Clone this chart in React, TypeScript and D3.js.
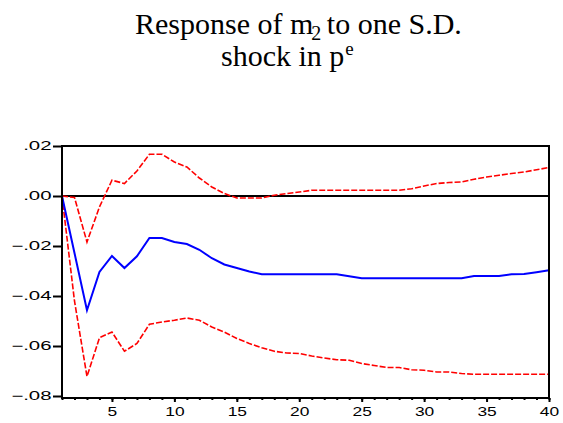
import { useEffect, useRef } from "react";
import * as d3 from "d3";

// periods 1..40
const periods = d3.range(1, 41);

const response = [
    0, -0.0228, -0.0457, -0.0304, -0.024, -0.0288, -0.0241, -0.0168, -0.0168, -0.0184,
    -0.0192, -0.0215, -0.0249, -0.0274, -0.0288, -0.0302, -0.0313, -0.0313, -0.0313, -0.0313,
    -0.0313, -0.0313, -0.0313, -0.0321, -0.0329, -0.0329, -0.0329, -0.0329, -0.0329, -0.0329,
    -0.0329, -0.0329, -0.0329, -0.032, -0.032, -0.032, -0.0313, -0.0312, -0.0305, -0.0297,
];

const upperBand = [
    0, -0.0006, -0.0184, -0.0044, 0.0063, 0.005, 0.01, 0.0167, 0.0167, 0.0136,
    0.0116, 0.0072, 0.0036, 0.001, -0.0008, -0.0008, -0.0008, 0.0003, 0.001, 0.0016,
    0.0023, 0.0023, 0.0023, 0.0023, 0.0023, 0.0023, 0.0023, 0.0023, 0.0029, 0.004,
    0.005, 0.0054, 0.0056, 0.0067, 0.0076, 0.0083, 0.009, 0.0096, 0.0105, 0.0114,
];

const lowerBand = [
    0, -0.042, -0.0722, -0.0567, -0.0544, -0.0621, -0.059, -0.0513, -0.0504, -0.0497,
    -0.0488, -0.0497, -0.0524, -0.0544, -0.057, -0.059, -0.0607, -0.0621, -0.0628, -0.063,
    -0.064, -0.0648, -0.0655, -0.0657, -0.067, -0.0678, -0.0686, -0.0686, -0.0695, -0.0697,
    -0.0704, -0.0704, -0.071, -0.0713, -0.0713, -0.0713, -0.0713, -0.0713, -0.0713, -0.0713,
];

const yTicks = [0.02, 0, -0.02, -0.04, -0.06, -0.08];
const xTicks = [5, 10, 15, 20, 25, 30, 35, 40];

const WIDTH = 563;
const HEIGHT = 423;
// tick labels are drawn wide, like the original
const Y_STRETCH = 1.7;
const X_STRETCH = 1.45;

export default function App() {
    const svgRef = useRef<SVGSVGElement | null>(null);

    useEffect(() => {
        const svg = d3.select(svgRef.current!);
        svg.selectAll("*").remove();

        const margin = { left: 62, right: 14, top: 146, bottom: 25 };
        const x = d3.scaleLinear().domain([1, 40]).range([margin.left, WIDTH - margin.right]);
        const y = d3.scaleLinear().domain([-0.0808, 0.02]).range([HEIGHT - margin.bottom, margin.top]);

        // title
        const title = svg.append("g").attr("font-family", "'Liberation Serif', 'Times New Roman', serif").attr("fill", "#000");
        const t1 = title.append("text").attr("x", 135).attr("y", 34).attr("font-size", 30);
        t1.append("tspan").text("Response of m");
        t1.append("tspan").attr("dy", 6).attr("dx", -2).attr("font-size", 20).text("2");
        t1.append("tspan").attr("dy", -6).attr("dx", -2).text(" to one S.D.");
        const t2 = title.append("text").attr("x", 221).attr("y", 66).attr("font-size", 30);
        t2.append("tspan").text("shock in p");
        t2.append("tspan").attr("dy", -11).attr("dx", 1).attr("font-size", 19).text("e");

        const fmt = (d: number) => d3.format(".2f")(d).replace("0.", ".");

        // y axis
        const yAxis = d3.axisLeft(y).tickValues(yTicks).tickSize(9).tickPadding(1).tickFormat((d) => fmt(Number(d)));
        const gy = svg.append("g").attr("transform", `translate(${margin.left},0)`).call(yAxis as any);
        gy.select(".domain").remove();
        gy.selectAll("line").attr("stroke", "#000").attr("stroke-width", 2);
        gy.selectAll("text")
            .attr("font-family", "'Liberation Sans', Arial, sans-serif")
            .attr("font-size", 12)
            .attr("fill", "#000")
            .attr("x", -10.5 / Y_STRETCH)
            .attr("transform", `scale(${Y_STRETCH},1)`);

        // x axis: minor ticks every period, major at 5s
        const xMinor = d3.axisBottom(x).tickValues(periods).tickSize(2).tickFormat(() => "");
        const gxm = svg.append("g").attr("transform", `translate(0,${HEIGHT - margin.bottom})`).call(xMinor as any);
        gxm.select(".domain").remove();
        gxm.selectAll("line").attr("stroke", "#000").attr("stroke-width", 2);

        const xAxis = d3.axisBottom(x).tickValues(xTicks).tickSize(4).tickPadding(5).tickFormat((d) => String(d));
        const gx = svg.append("g").attr("transform", `translate(0,${HEIGHT - margin.bottom})`).call(xAxis as any);
        gx.select(".domain").remove();
        gx.selectAll("line").attr("stroke", "#000").attr("stroke-width", 2);
        gx.selectAll("text")
            .attr("font-family", "'Liberation Sans', Arial, sans-serif")
            .attr("font-size", 12)
            .attr("fill", "#000")
            .attr("transform", `scale(${X_STRETCH},1)`)
            .attr("x", 0);

        // zero line
        svg.append("line")
            .attr("x1", x(1)).attr("x2", x(40))
            .attr("y1", y(0)).attr("y2", y(0))
            .attr("stroke", "#000").attr("stroke-width", 2);

        const line = d3.line<number>().x((_d, i) => x(periods[i])).y((d) => y(d));

        const bands = [upperBand, lowerBand];
        svg.selectAll("path.band")
            .data(bands)
            .join("path")
            .attr("class", "band")
            .attr("fill", "none")
            .attr("stroke", "#ff0000")
            .attr("stroke-width", 1.6)
            .attr("stroke-dasharray", "6,2")
            .attr("d", (d) => line(d));

        svg.append("path")
            .datum(response)
            .attr("fill", "none")
            .attr("stroke", "#0000ff")
            .attr("stroke-width", 2)
            .attr("d", line as any);

        // frame
        svg.append("rect")
            .attr("x", x(1)).attr("y", margin.top)
            .attr("width", x(40) - x(1))
            .attr("height", HEIGHT - margin.bottom - margin.top)
            .attr("fill", "none").attr("stroke", "#000").attr("stroke-width", 2);
    }, []);

    return (
        <svg
            ref={svgRef}
            width={WIDTH}
            height={HEIGHT}
            style={{ position: "absolute", left: 0, top: 0, background: "#fff" }}
        />
    );
}
